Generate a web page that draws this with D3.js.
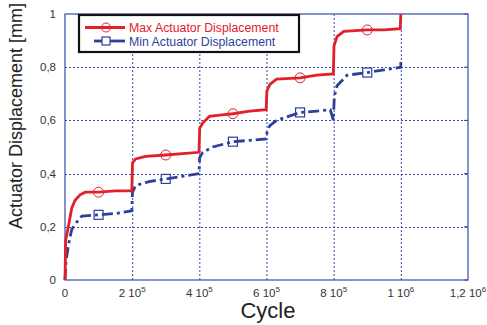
<!DOCTYPE html>
<html lang="en">
<head>
    <meta charset="UTF-8">
    <title>Actuator Displacement</title>
    <script src="https://d3js.org/d3.v7.min.js"></script>
    <style>
        body { margin: 0; background: #fff; }
        svg { display: block; font-family: "Liberation Sans", Arial, sans-serif; }
        .tick-label { fill: #333; font-size: 11.5px; }
    </style>
</head>
<body>
    <svg id="svg" width="487" height="325"></svg>
    <script>
        // Max actuator displacement [cycle, mm]
        const maxCycles = [0, 2e3, 1e4, 2e4, 3e4, 4.5e4, 6e4, 1e5, 1.5e5, 1.99e5,
            2.01e5, 2.1e5, 2.4e5, 3e5, 3.5e5, 3.99e5,
            4.01e5, 4.1e5, 4.3e5, 4.6e5, 5e5, 5.5e5, 5.99e5,
            6.01e5, 6.1e5, 6.3e5, 7e5, 7.5e5, 7.99e5,
            8.01e5, 8.1e5, 8.3e5, 9e5, 9.5e5, 9.98e5, 1e6];
        const maxValues = [0, 0.15, 0.2, 0.27, 0.3, 0.32, 0.33, 0.33, 0.335, 0.335,
            0.44, 0.455, 0.465, 0.47, 0.475, 0.48,
            0.57, 0.59, 0.615, 0.62, 0.625, 0.635, 0.64,
            0.71, 0.735, 0.755, 0.76, 0.77, 0.775,
            0.88, 0.915, 0.935, 0.94, 0.94, 0.945, 1.0];

        // Min actuator displacement [cycle, mm]
        const minCycles = [0, 3e3, 1e4, 2e4, 3e4, 5e4, 1e5, 1.5e5, 1.99e5,
            2.01e5, 2.1e5, 2.5e5, 3e5, 3.5e5, 3.99e5,
            4.01e5, 4.1e5, 4.4e5, 5e5, 5.5e5, 5.99e5,
            6.02e5, 6.1e5, 6.3e5, 7e5, 7.5e5, 7.9e5, 7.99e5,
            8.02e5, 8.1e5, 8.4e5, 9e5, 9.5e5, 1e6, 1e6];
        const minValues = [0, 0.07, 0.13, 0.19, 0.21, 0.24, 0.245, 0.25, 0.26,
            0.33, 0.355, 0.37, 0.38, 0.39, 0.4,
            0.46, 0.48, 0.5, 0.52, 0.525, 0.53,
            0.56, 0.58, 0.6, 0.63, 0.635, 0.64, 0.6,
            0.69, 0.73, 0.77, 0.78, 0.79, 0.8, 0.82];

        // marker positions
        const markerCycles = [1e5, 3e5, 5e5, 7e5, 9e5];
        const maxMarkers = [0.33, 0.47, 0.625, 0.76, 0.94];
        const minMarkers = [0.245, 0.38, 0.52, 0.63, 0.78];

        const xTicks = [0, 2e5, 4e5, 6e5, 8e5, 1e6, 1.2e6];
        const xTickMant = ["0", "2", "4", "6", "8", "1", "1,2"];
        const xTickExp = ["", "5", "5", "5", "5", "6", "6"];
        const yTicks = [0, 0.2, 0.4, 0.6, 0.8, 1];
        const yTickLabels = ["0", "0,2", "0,4", "0,6", "0,8", "1"];

        const seriesNames = ["Max Actuator Displacement", "Min Actuator Displacement"];
        const red = "#e2202b";
        const blue = "#2e3f9c";
        const gridBlue = "#3a4aa8";

        const margin = {top: 14, right: 19, bottom: 45, left: 65};
        const width = 487, height = 325;
        const svg = d3.select("#svg");

        const x = d3.scaleLinear().domain([0, 1.2e6]).range([margin.left, width - margin.right]);
        const y = d3.scaleLinear().domain([0, 1]).range([height - margin.bottom, margin.top]);

        // grid
        const grid = svg.append("g").attr("stroke", gridBlue).attr("stroke-width", 1)
            .attr("stroke-dasharray", "2,2");
        grid.selectAll(".vx").data(xTicks.slice(1, -1)).enter().append("line")
            .attr("x1", d => x(d) + 0.5).attr("x2", d => x(d) + 0.5)
            .attr("y1", y(0)).attr("y2", y(1));
        grid.selectAll(".hy").data(yTicks.slice(1, -1)).enter().append("line")
            .attr("y1", d => Math.round(y(d)) + 0.5).attr("y2", d => Math.round(y(d)) + 0.5)
            .attr("x1", x(0)).attr("x2", x(1.2e6));

        // frame
        svg.append("rect")
            .attr("x", x(0)).attr("y", y(1))
            .attr("width", x(1.2e6) - x(0)).attr("height", y(0) - y(1))
            .attr("fill", "none").attr("stroke", gridBlue).attr("stroke-width", 1.2);

        // small ticks on right edge
        svg.append("g").selectAll("line").data(yTicks).enter().append("line")
            .attr("x1", x(1.2e6) - 4).attr("x2", x(1.2e6))
            .attr("y1", d => y(d)).attr("y2", d => y(d))
            .attr("stroke", gridBlue);

        // x tick labels: mantissa + "10" with superscript exponent
        const xl = svg.append("g").selectAll("text").data(xTicks).enter().append("text")
            .attr("class", "tick-label")
            .attr("x", d => x(d)).attr("y", 297)
            .attr("text-anchor", "middle");
        xl.append("tspan").text((d, i) => xTickMant[i] + (xTickExp[i] ? " 10" : ""));
        xl.append("tspan").attr("dy", -5).attr("font-size", "8px").text((d, i) => xTickExp[i]);

        svg.append("g").selectAll("text").data(yTicks).enter().append("text")
            .attr("class", "tick-label")
            .attr("x", 56).attr("y", d => y(d) + 4)
            .attr("text-anchor", "end")
            .text((d, i) => yTickLabels[i]);

        // axis titles
        svg.append("text")
            .attr("transform", "translate(22,116) rotate(-90)")
            .attr("text-anchor", "middle").attr("font-size", "18px").attr("fill", "#222")
            .text("Actuator Displacement [mm]");
        svg.append("text")
            .attr("x", 268).attr("y", 318)
            .attr("text-anchor", "middle").attr("font-size", "22px").attr("fill", "#222")
            .text("Cycle");

        // lines
        const line = d3.line().x(d => x(d[0])).y(d => y(d[1]));
        const maxData = maxCycles.map((c, i) => [c, maxValues[i]]);
        const minData = minCycles.map((c, i) => [c, minValues[i]]);

        svg.append("path").datum(minData)
            .attr("d", line).attr("fill", "none")
            .attr("stroke", blue).attr("stroke-width", 2.8)
            .attr("stroke-dasharray", "11,4,3,4");
        svg.append("path").datum(maxData)
            .attr("d", line).attr("fill", "none")
            .attr("stroke", red).attr("stroke-width", 2.8);

        // markers
        svg.append("g").selectAll("circle").data(markerCycles).enter().append("circle")
            .attr("cx", d => x(d)).attr("cy", (d, i) => y(maxMarkers[i]))
            .attr("r", 5).attr("fill", "none").attr("stroke", red).attr("stroke-width", 1);
        svg.append("g").selectAll("rect").data(markerCycles).enter().append("rect")
            .attr("x", d => x(d) - 4.5).attr("y", (d, i) => y(minMarkers[i]) - 4.5)
            .attr("width", 9).attr("height", 9)
            .attr("fill", "none").attr("stroke", blue).attr("stroke-width", 1.2);

        // legend
        const lg = svg.append("g");
        lg.append("rect").attr("x", 79).attr("y", 15).attr("width", 220).attr("height", 37)
            .attr("fill", "#fff").attr("stroke", "#111").attr("stroke-width", 2.2);
        lg.append("line").attr("x1", 85).attr("x2", 125).attr("y1", 27.5).attr("y2", 27.5)
            .attr("stroke", red).attr("stroke-width", 2.8);
        lg.append("circle").attr("cx", 106).attr("cy", 27.5).attr("r", 4.5)
            .attr("fill", "none").attr("stroke", red).attr("stroke-width", 1);
        lg.append("line").attr("x1", 94).attr("x2", 125).attr("y1", 41).attr("y2", 41)
            .attr("stroke", blue).attr("stroke-width", 2.8);
        lg.append("rect").attr("x", 102).attr("y", 37).attr("width", 8).attr("height", 8)
            .attr("fill", "#fff").attr("stroke", blue).attr("stroke-width", 1.2);
        lg.append("text").attr("x", 129).attr("y", 31.5).attr("font-size", "12.3px")
            .attr("fill", red).text(seriesNames[0]);
        lg.append("text").attr("x", 129).attr("y", 45.5).attr("font-size", "12.3px")
            .attr("fill", blue).text(seriesNames[1]);
    </script>
</body>
</html>
